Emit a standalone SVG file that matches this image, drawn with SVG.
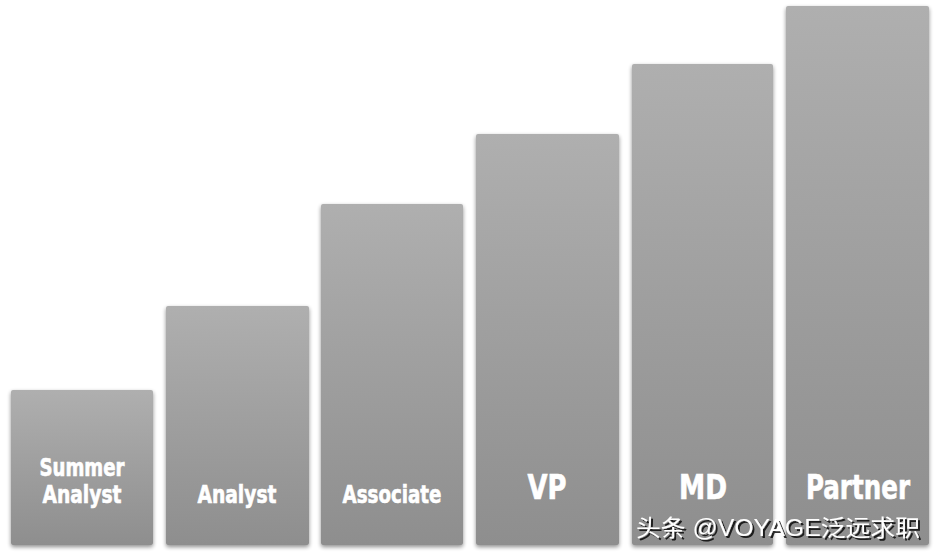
<svg xmlns="http://www.w3.org/2000/svg" width="938" height="556" viewBox="0 0 938 556">
<defs>
<linearGradient id="g" x1="0" y1="0" x2="0" y2="1">
<stop offset="0" stop-color="#afafaf"/>
<stop offset="1" stop-color="#8e8e8e"/>
</linearGradient>
<filter id="sh" x="-10%" y="-10%" width="120%" height="120%">
<feGaussianBlur in="SourceAlpha" stdDeviation="2"/>
<feOffset dx="0" dy="2" result="b"/>
<feComponentTransfer><feFuncA type="linear" slope="0.45"/></feComponentTransfer>
<feMerge><feMergeNode/><feMergeNode in="SourceGraphic"/></feMerge>
</filter>
<filter id="ts" x="-5%" y="-20%" width="110%" height="140%">
<feGaussianBlur in="SourceAlpha" stdDeviation="0.6"/>
<feOffset dx="1.5" dy="1.5"/>
<feComponentTransfer><feFuncA type="linear" slope="0.8"/></feComponentTransfer>
<feMerge><feMergeNode/><feMergeNode in="SourceGraphic"/></feMerge>
</filter>
</defs>
<style>
.bar{fill:url(#g);filter:url(#sh)}
.lbl{font-family:"DejaVu Sans Condensed","DejaVu Sans",sans-serif;font-stretch:condensed;font-weight:bold;fill:#fff;stroke:#fff;stroke-width:0.6;text-anchor:middle}
.s{font-size:24px}
.b{font-size:33px}
.wm{font-family:"Liberation Sans","Noto Sans CJK SC",sans-serif;font-size:23px;fill:#fff;filter:url(#ts)}
</style>
<rect width="938" height="556" fill="#fff"/>
<g id="summer-analyst">
<rect class="bar" x="11" y="390" width="142" height="155" rx="2"/>
<text class="lbl s" x="82" y="476" textLength="85" lengthAdjust="spacingAndGlyphs">Summer</text>
<text class="lbl s" x="82" y="503" textLength="79" lengthAdjust="spacingAndGlyphs">Analyst</text>
</g>
<g id="analyst">
<rect class="bar" x="166" y="306" width="143" height="239" rx="2"/>
<text class="lbl s" x="237" y="503" textLength="79" lengthAdjust="spacingAndGlyphs">Analyst</text>
</g>
<g id="associate">
<rect class="bar" x="321" y="204" width="142" height="341" rx="2"/>
<text class="lbl s" x="392" y="503" textLength="99" lengthAdjust="spacingAndGlyphs">Associate</text>
</g>
<g id="vp">
<rect class="bar" x="476" y="134" width="143" height="411" rx="2"/>
<text class="lbl b" x="547" y="499" textLength="39" lengthAdjust="spacingAndGlyphs">VP</text>
</g>
<g id="md">
<rect class="bar" x="632" y="64" width="141" height="481" rx="2"/>
<text class="lbl b" x="703" y="499" textLength="48" lengthAdjust="spacingAndGlyphs">MD</text>
</g>
<g id="partner">
<rect class="bar" x="786" y="6" width="143" height="539" rx="2"/>
<text class="lbl b" x="858" y="499" textLength="104" lengthAdjust="spacingAndGlyphs">Partner</text>
</g>
<text class="wm" x="636" y="536" textLength="284" lengthAdjust="spacingAndGlyphs">头条 @VOYAGE泛远求职</text>
</svg>
